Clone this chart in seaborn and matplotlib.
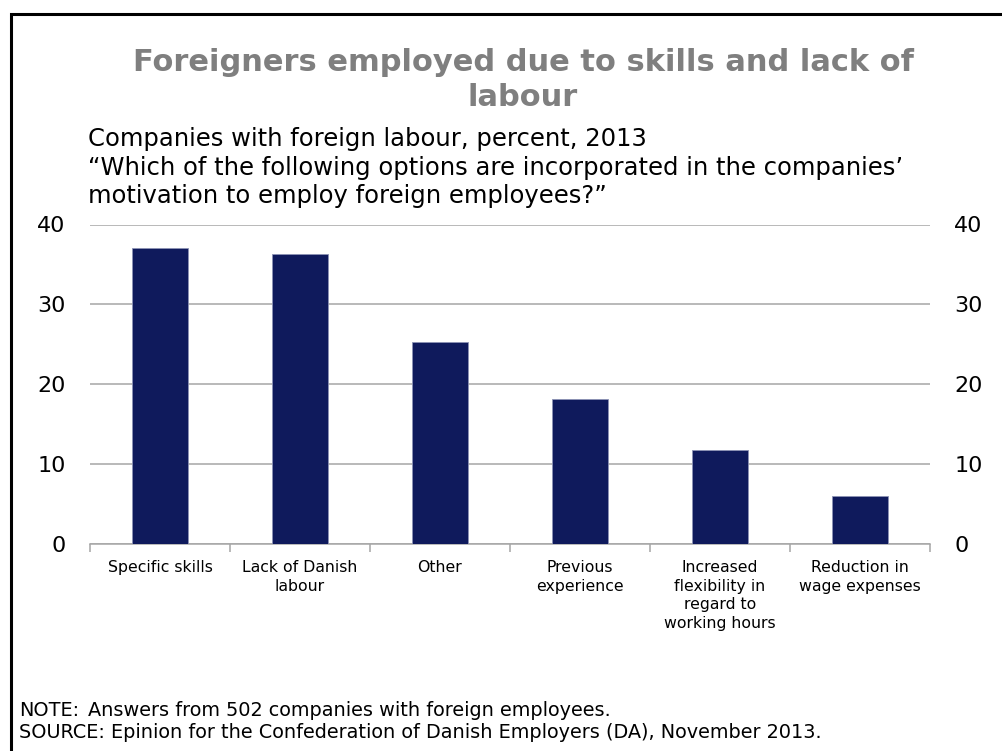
import matplotlib
matplotlib.use("Agg")
import matplotlib.pyplot as plt
from matplotlib.patches import Rectangle
import seaborn as sns
import pandas as pd

categories = [
    "Specific skills",
    "Lack of Danish\nlabour",
    "Other",
    "Previous\nexperience",
    "Increased\nflexibility in\nregard to\nworking hours",
    "Reduction in\nwage expenses",
]
shares = [37.1, 36.3, 25.3, 18.1, 11.7, 5.9]
y_ticks = [0, 10, 20, 30, 40]

title = "Foreigners employed due to skills and lack of\nlabour"
subtitle = ("Companies with foreign labour, percent, 2013\n"
            "\u201cWhich of the following options are incorporated in the companies\u2019\n"
            "motivation to employ foreign employees?\u201d")
note_label = "NOTE:"
note_text = "Answers from 502 companies with foreign employees."
source_text = "SOURCE: Epinion for the Confederation of Danish Employers (DA), November 2013."

df = pd.DataFrame({"category": categories, "share": shares})

sns.set_theme(style="white")
plt.rcParams["font.family"] = ["DejaVu Sans"]

W, H = 1003, 751
fig = plt.figure(figsize=(W / 100, H / 100), dpi=100)
ax = fig.add_axes([90 / W, 1 - 543.5 / H, 840 / W, 319 / H])

sns.barplot(data=df, x="category", y="share", color="#0f1a5c", width=0.4,
            saturation=1, ax=ax, edgecolor="#8c93b5", linewidth=0.6, zorder=3)

ax.set_ylim(0, 40)
ax.set_xlim(-0.5, len(categories) - 0.5)
ax.set_yticks(y_ticks)
ax.yaxis.grid(True, color="#a6a6a6", linewidth=1.1, zorder=0)
ax.set_axisbelow(True)
for s in ["top", "right", "left"]:
    ax.spines[s].set_visible(False)
ax.spines["bottom"].set_color("#a6a6a6")
ax.spines["bottom"].set_linewidth(1.1)
ax.set_xlabel("")
ax.set_ylabel("")

# category separators below the baseline
ax.set_xticks([i - 0.5 for i in range(len(categories) + 1)], minor=True)
ax.tick_params(axis="x", which="minor", length=6, color="#a6a6a6", width=1.1,
               bottom=True)
ax.tick_params(axis="x", which="major", length=0, pad=12, labelsize=11.3,
               colors="black")
ax.set_xticklabels(categories, linespacing=1.3)
ax.tick_params(axis="y", length=0, labelsize=16, pad=17.5, colors="black",
               labelright=True, labelleft=True)

fig.text(523 / W, 1 - 80 / H, title, ha="center", va="center", fontsize=22,
         fontweight="bold", color="#7f7f7f", linespacing=1.25)
fig.text(88 / W, 1 - 127 / H, subtitle, ha="left", va="top", fontsize=17.5,
         color="black", linespacing=1.25)

fig.text(19 / W, 1 - 711 / H, note_label, ha="left", va="center", fontsize=13.9,
         color="black")
fig.text(88 / W, 1 - 711 / H, note_text, ha="left", va="center", fontsize=13.9,
         color="black")
fig.text(19 / W, 1 - 733 / H, source_text, ha="left", va="center", fontsize=13.9,
         color="black")

fig.patches.append(Rectangle((11 / W, -0.1), 1.2, 1 - 14 / H + 0.1,
                             transform=fig.transFigure, fill=False,
                             edgecolor="black", linewidth=2.2))

fig.savefig("out.png", dpi=100)
